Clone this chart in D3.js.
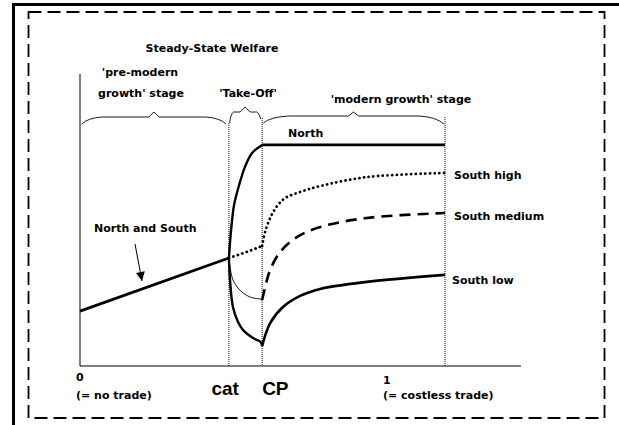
<!DOCTYPE html>
<html>
<head>
<style>
body {margin: 0; background: #fff;}
text {font-family: "DejaVu Sans"; font-weight: bold; font-size: 11px; fill: #000;}
.big {font-family: "Liberation Sans"; font-weight: bold; font-size: 19px;}
</style>
<script src="https://cdnjs.cloudflare.com/ajax/libs/d3/7.8.5/d3.min.js"></script>
</head>
<body>
<div id="chart"></div>
<script>
    // trade cost axis: 0 = no trade, 1 = costless trade
    const catX = 0.408;
    const cpX = 0.499;
    const xMax = 1.208;

    // welfare values (0..100)
    const northSouth = [[0, 18.8], [catX, 37.0]];
    const northRise = [[catX, 37.0], [0.414, 46.6], [0.422, 55.1], [0.436, 62.0], [0.452, 68.2], [0.471, 72.9], [cpX, 75.7]];
    const northFlat = [[cpX, 75.7], [1, 75.7]];
    const highTakeOff = [[catX, 37.0], [0.455, 39.0], [cpX, 41.1]];
    const highModern = [[cpX, 41.1], [0.507, 45.9], [0.521, 50.7], [0.540, 54.8], [0.562, 57.5], [0.603, 59.6], [0.658, 61.6], [0.786, 64.7], [1, 66.1]];
    const mediumTakeOff = [[catX, 37.0], [0.411, 33.9], [0.419, 29.5], [0.433, 26.7], [0.447, 25.0], [0.466, 23.6], [0.496, 22.9]];
    const mediumModern = [[cpX, 22.6], [0.510, 28.4], [0.521, 32.9], [0.548, 39.0], [0.595, 44.2], [0.658, 47.6], [0.786, 50.7], [1, 52.4]];
    const lowTakeOff = [[catX, 37.0], [0.411, 29.5], [0.419, 20.2], [0.433, 15.1], [0.447, 12.3], [0.474, 9.6], [0.495, 8.2], [cpX, 6.8]];
    const lowModern = [[cpX, 6.8], [0.507, 10.3], [0.521, 14.7], [0.556, 20.2], [0.603, 24.0], [0.658, 26.4], [0.786, 28.8], [1, 31.2]];

    const stages = [
        {name: "pre", from: 0.005, to: 0.40},
        {name: "take", from: 0.41, to: 0.495},
        {name: "modern", from: 0.502, to: 0.997}
    ];

    const W = 619, H = 425;
    const x = d3.scaleLinear().domain([0, 1]).range([80, 445]);
    const y = d3.scaleLinear().domain([0, 100]).range([366, 74]);

    const svg = d3.select("#chart").append("svg")
        .attr("width", W)
        .attr("height", H);

    svg.append("rect").attr("width", W).attr("height", H).attr("fill", "#fff");

    // outer frame (top and left only are visible)
    svg.append("path")
        .attr("d", `M13.5,${H} L13.5,4.5 L${W},4.5`)
        .attr("fill", "none").attr("stroke", "#000").attr("stroke-width", 3);

    svg.append("rect")
        .attr("x", 28.5).attr("y", 12)
        .attr("width", 576).attr("height", 406)
        .attr("fill", "none").attr("stroke", "#000")
        .attr("stroke-width", 1.8)
        .attr("stroke-dasharray", "13,6");

    // axes
    svg.append("path")
        .attr("d", `M${x(0)},${y(100)} L${x(0)},${y(0)} L${x(xMax)},${y(0)}`)
        .attr("fill", "none").attr("stroke", "#000").attr("stroke-width", 1);

    // vertical guides
    const guides = [[catX, 83.2], [cpX, 84.9], [1, 85.3]];
    svg.selectAll(".guide").data(guides).join("line")
        .attr("class", "guide")
        .attr("x1", d => x(d[0])).attr("x2", d => x(d[0]))
        .attr("y1", d => y(d[1])).attr("y2", y(0))
        .attr("stroke", "#000").attr("stroke-width", 1)
        .attr("stroke-dasharray", "1,1");

    // braces
    function brace(a, b, endL, endR, arm, peak, bend) {
        const x0 = x(a), x1 = x(b), m = (x0 + x1) / 2;
        const p = d3.path();
        p.moveTo(x0, endL);
        p.quadraticCurveTo(x0 + bend * 0.3, arm + 1, x0 + bend, arm);
        p.lineTo(m - 5, arm);
        p.lineTo(m, peak);
        p.lineTo(m + 5, arm);
        p.lineTo(x1 - bend, arm);
        p.quadraticCurveTo(x1 - bend * 0.3, arm + 1, x1, endR);
        return p.toString();
    }
    svg.append("path").attr("d", brace(stages[0].from, stages[0].to, 124, 124, 117, 112, 20))
        .attr("fill", "none").attr("stroke", "#000").attr("stroke-width", 0.9);
    svg.append("path").attr("d", brace(stages[1].from, stages[1].to, 123, 119, 112, 107, 4))
        .attr("fill", "none").attr("stroke", "#000").attr("stroke-width", 0.9);
    svg.append("path").attr("d", brace(stages[2].from, stages[2].to, 123, 124, 116, 112, 25))
        .attr("fill", "none").attr("stroke", "#000").attr("stroke-width", 0.9);

    const smooth = d3.line().x(d => x(d[0])).y(d => y(d[1])).curve(d3.curveMonotoneX);
    const straight = d3.line().x(d => x(d[0])).y(d => y(d[1]));
    const curvy = d3.line().x(d => x(d[0])).y(d => y(d[1])).curve(d3.curveCatmullRom);

    function draw(data, gen, width, dash, cap) {
        svg.append("path")
            .attr("d", gen(data))
            .attr("fill", "none")
            .attr("stroke", "#000")
            .attr("stroke-width", width)
            .attr("stroke-dasharray", dash)
            .attr("stroke-linecap", cap || "butt");
    }

    draw(northSouth, straight, 2.8, null);
    draw(northRise, curvy, 2.4, null);
    draw(northFlat, straight, 2.8, null);
    draw(highTakeOff, smooth, 2.8, "0.1,4.6", "round");
    draw(highModern, curvy, 2.8, "0.1,4.6", "round");
    draw(mediumTakeOff, curvy, 0.9, null);
    draw(mediumModern, curvy, 2.6, "11,7");
    draw(lowTakeOff, curvy, 2.4, null);
    draw(lowModern, curvy, 2.6, null);

    // arrow
    svg.append("defs").append("marker")
        .attr("id", "head")
        .attr("viewBox", "0 0 10 10")
        .attr("refX", 10).attr("refY", 5)
        .attr("markerWidth", 12).attr("markerHeight", 9)
        .attr("markerUnits", "userSpaceOnUse")
        .attr("orient", "auto")
        .append("path").attr("d", "M0,0 L10,5 L0,10 Z").attr("fill", "#000");
    svg.append("line")
        .attr("x1", 135).attr("y1", 244)
        .attr("x2", 142).attr("y2", 281)
        .attr("stroke", "#000").attr("stroke-width", 1)
        .attr("marker-end", "url(#head)");

    // labels
    const labels = [
        {t: "Steady-State Welfare", x: 212, y: 52, a: "middle"},
        {t: "'pre-modern", x: 140, y: 76, a: "middle"},
        {t: "growth' stage", x: 141, y: 97, a: "middle"},
        {t: "'Take-Off'", x: 248, y: 97, a: "middle"},
        {t: "'modern growth' stage", x: 401, y: 103, a: "middle"},
        {t: "North", x: 288, y: 137, a: "start"},
        {t: "South high", x: 454, y: 179, a: "start"},
        {t: "South medium", x: 454, y: 220, a: "start"},
        {t: "South low", x: 452, y: 284, a: "start"},
        {t: "North and South", x: 94, y: 232, a: "start"},
        {t: "0", x: x(0) - 4, y: 381, a: "start"},
        {t: "(= no trade)", x: x(0) - 4, y: 399, a: "start"},
        {t: "1", x: x(1) - 62, y: 384, a: "start"},
        {t: "(= costless trade)", x: x(1) - 62, y: 399, a: "start"}
    ];
    svg.selectAll(".lab").data(labels).join("text")
        .attr("class", "lab")
        .attr("x", d => d.x).attr("y", d => d.y)
        .attr("text-anchor", d => d.a)
        .text(d => d.t);

    svg.append("text").attr("class", "big")
        .attr("x", x(catX) + 10).attr("y", 395)
        .attr("text-anchor", "end").text("cat");
    svg.append("text").attr("class", "big")
        .attr("x", x(cpX)).attr("y", 395)
        .attr("text-anchor", "start").text("CP");
</script>
</body>
</html>
